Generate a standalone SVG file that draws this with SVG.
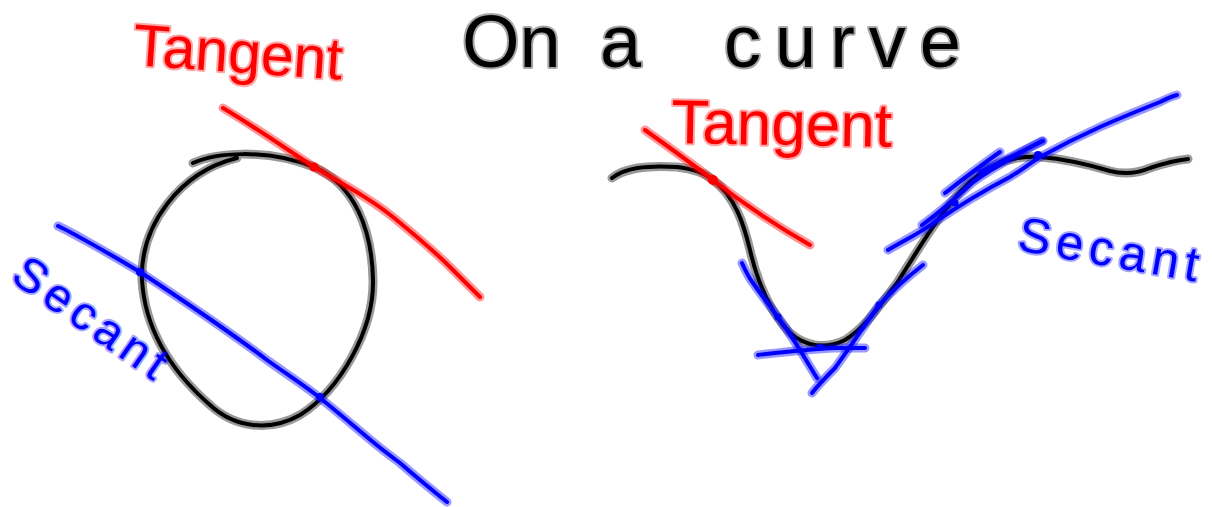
<svg xmlns="http://www.w3.org/2000/svg" width="1212" height="507" viewBox="0 0 1212 507">
<style>
.h{fill:none;stroke-linecap:round;stroke-linejoin:round;stroke-width:9;stroke-opacity:0.4}
.c{fill:none;stroke-linecap:round;stroke-linejoin:round;stroke-width:4}
.k{stroke:#000}
.r{stroke:#ff0000}
.b{stroke:#0000ff}
.t{font-family:"Liberation Sans",Arial,sans-serif;paint-order:stroke;stroke-width:4;stroke-opacity:0.35;stroke-linejoin:round}
.tk{fill:#000;stroke:#000}
.tr{fill:#ff0000;stroke:#ff0000}
.tb{fill:#0000ff;stroke:#0000ff}
.dr{fill:#ff0000}
.db{fill:#0000ff}
</style>
<rect width="1212" height="507" fill="#fff"/>
<defs>
<path id="circ" d="M193,163 C215,153 265,148 314,167 C355,185 372,230 373,280 C374,330 340,390 300,415 C270,432 235,428 210,405 C170,370 145,330 142,280 C140,225 180,172 237,158"/>
<path id="ltan" d="M223,108 C250,124 285,148 314,167 C345,185 372,200 393,217 C415,235 435,252 450,267 C462,279 472,289 480,297"/>
<path id="lsec" d="M58,226 C65,229 100,248 140,272 C160,285 185,302 207,317 C230,333 250,347 267,360 C285,373 305,386 320,398 C340,414 355,427 367,437 C380,448 392,457 400,463 C415,476 432,490 447,502"/>
<path id="rcurve" d="M612,178 C625,168 645,165 677,167 C695,169 705,173 713,180 C735,196 744,225 750,250 C757,280 768,310 790,333 C805,346 825,350 845,340 C865,328 880,305 897,283 C915,255 935,220 960,192 C985,165 1010,155 1040,157 C1065,159 1090,165 1110,171 C1125,175 1138,173 1150,168 C1165,163 1178,160 1188,159"/>
<path id="rtan" d="M645,130 C680,155 700,170 713,180 C745,205 780,228 810,245"/>
<path id="rsec" d="M888,250 C905,240 920,233 935,222 C960,205 985,190 1010,177 C1025,168 1032,162 1040,157 C1060,146 1080,136 1100,127 C1120,118 1140,110 1160,102 C1168,98 1173,96 1177,95"/>
<path id="rs1" d="M922,225 C940,212 958,196 973,182 C990,170 1010,158 1042,141"/>
<path id="rs2" d="M945,193 C962,180 980,166 1000,152"/>
<path id="rs3" d="M980,172 C1000,162 1020,152 1043,141"/>
<path id="rb1" d="M742,263 C746,272 749,278 753,283 C762,296 770,306 778,317 C786,328 793,339 800,350 C806,360 812,370 817,378"/>
<path id="rb2" d="M758,355 C785,352 810,349 835,348 C848,348 858,348 865,348"/>
<path id="rb3" d="M812,393 C818,385 825,378 835,368 C850,347 865,325 879,305 C895,288 910,275 923,265"/>
</defs>
<g id="title">
<text class="t tk" font-size="74" y="67"><tspan x="462">On</tspan> <tspan x="600">a</tspan> <tspan x="724" letter-spacing="14">curve</tspan></text>
</g>
<g id="left-circle">
<use href="#circ" class="h k"/><use href="#circ" class="c k"/>
</g>
<g id="left-tangent">
<use href="#ltan" class="h r"/><use href="#ltan" class="c r"/>
<circle cx="314" cy="167" r="4.5" class="dr"/>
<text class="t tr" font-size="59" x="132" y="65" transform="rotate(4 132 65)">Tangent</text>
</g>
<g id="left-secant">
<use href="#lsec" class="h b"/><use href="#lsec" class="c b"/>
<circle cx="140" cy="272" r="4" class="db"/>
<circle cx="320" cy="397" r="4" class="db"/>
<text class="t tb" font-size="47" letter-spacing="6" x="9" y="280" transform="rotate(35 9 280)">Secant</text>
</g>
<g id="right-curve">
<use href="#rcurve" class="h k"/><use href="#rcurve" class="c k"/>
</g>
<g id="right-tangent">
<use href="#rtan" class="h r"/><use href="#rtan" class="c r"/>
<circle cx="713" cy="180" r="5" class="dr"/>
<text class="t tr" font-size="62" x="671" y="143" transform="rotate(1 671 143)">Tangent</text>
</g>
<g id="right-secants">
<use href="#rsec" class="h b"/><use href="#rsec" class="c b"/>
<use href="#rs1" class="h b"/><use href="#rs1" class="c b"/>
<use href="#rs2" class="h b"/><use href="#rs2" class="c b"/>
<use href="#rs3" class="h b"/><use href="#rs3" class="c b"/>
<use href="#rb1" class="h b"/><use href="#rb1" class="c b"/>
<use href="#rb2" class="h b"/><use href="#rb2" class="c b"/>
<use href="#rb3" class="h b"/><use href="#rb3" class="c b"/>
<circle cx="1038" cy="155" r="4" class="db"/>
<circle cx="955" cy="203" r="3.5" class="db"/>
<circle cx="778" cy="317" r="3.5" class="db"/>
<circle cx="820" cy="347" r="3.5" class="db"/>
<circle cx="879" cy="305" r="3.5" class="db"/>
<text class="t tb" font-size="49" letter-spacing="6" x="1016" y="250" transform="rotate(10 1016 250)">Secant</text>
</g>
</svg>
